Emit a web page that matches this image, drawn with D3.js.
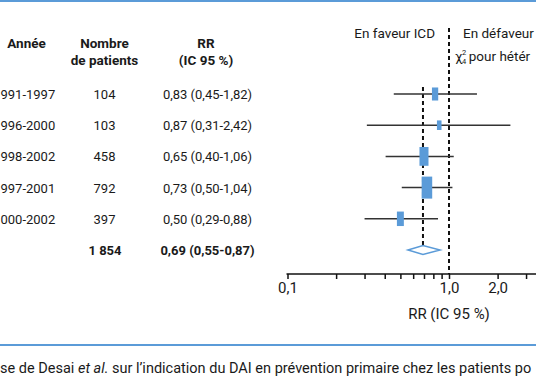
<!DOCTYPE html>
<html><head><meta charset="utf-8">
<script src="https://cdn.jsdelivr.net/npm/d3@7"></script>
<style>
html,body{margin:0;padding:0;background:#fff;overflow:hidden}
text{font-family:Roboto,"Noto Sans",sans-serif;fill:#1a1a1a}
</style></head>
<body>
<svg id="c" width="536" height="386"></svg>
<script>
// ---- data ----
const years = ["991-1997","996-2000","998-2002","997-2001","000-2002"];
const patients = ["104","103","458","792","397"];
const rrLabels = ["0,83 (0,45-1,82)","0,87 (0,31-2,42)","0,65 (0,40-1,06)","0,73 (0,50-1,04)","0,50 (0,29-0,88)"];
// values as drawn in the figure
const rr = [0.82, 0.87, 0.70, 0.73, 0.50];
const ciLow = [0.455, 0.31, 0.405, 0.51, 0.30];
const ciHigh = [1.49, 2.40, 1.07, 1.05, 0.855];
const weights = [13, 7, 27, 37, 16];
const pooledN = "1 854";
const pooledLabel = "0,69 (0,55-0,87)";
const pooled = {rr: 0.69, lo: 0.557, hi: 0.88};
const tickValues = [0.1,0.2,0.3,0.4,0.5,0.6,0.7,0.8,0.9,1,2,3,4];
const tickLabels = {0.1:"0,1", 1:"1,0", 2:"2,0"};

const svg = d3.select("#c");
const blue = "#5b9bd8";
const rowY = d3.scalePoint().domain(d3.range(6)).range([94, 250]);
const x = d3.scaleLog().domain([0.1, 1]).range([287.5, 449]);
const boxH = d3.scaleSqrt().domain([0, 37]).range([0, 22]);

// frame lines
svg.append("line").attr("x1",0).attr("x2",536).attr("y1",1).attr("y2",1).attr("stroke",blue).attr("stroke-width",2);
svg.append("line").attr("x1",0).attr("x2",536).attr("y1",345).attr("y2",345).attr("stroke",blue).attr("stroke-width",2);

// headers
const hdr = svg.append("g").attr("font-weight","bold").attr("font-size",13.5).attr("text-anchor","middle");
hdr.append("text").attr("x",26.5).attr("y",47.5).text("Année");
hdr.append("text").attr("x",104.5).attr("y",47.5).text("Nombre");
hdr.append("text").attr("x",104.5).attr("y",64.5).text("de patients");
hdr.append("text").attr("x",206).attr("y",47.5).text("RR");
hdr.append("text").attr("x",206).attr("y",64.5).text("(IC 95 %)");

// table rows
const rows = svg.append("g").attr("font-size",13);
rows.selectAll(".yr").data(years).join("text").attr("x",0.5).attr("y",(d,i)=>rowY(i)+5).text(d=>d);
rows.selectAll(".np").data(patients).join("text").attr("text-anchor","middle").attr("x",104.5).attr("y",(d,i)=>rowY(i)+5).text(d=>d);
rows.selectAll(".rl").data(rrLabels).join("text").attr("text-anchor","middle").attr("x",207.5).attr("y",(d,i)=>rowY(i)+5).text(d=>d);
rows.append("text").attr("font-weight","bold").attr("text-anchor","middle").attr("x",105).attr("y",rowY(5)+5).text(pooledN);
rows.append("text").attr("font-weight","bold").attr("text-anchor","middle").attr("x",207.5).attr("y",rowY(5)+5).text(pooledLabel);

// top annotations
svg.append("text").attr("font-size",13.5).attr("text-anchor","end").attr("x",435).attr("y",38).text("En faveur ICD");
svg.append("text").attr("font-size",13.5).attr("x",463).attr("y",38).text("En défaveur");
const chi = svg.append("text").attr("font-size",13.5).attr("x",455).attr("y",60.5);
chi.append("tspan").text("χ");
chi.append("tspan").attr("font-size",7.5).attr("dx",-0.5).attr("dy",-5.5).text("2");
chi.append("tspan").attr("font-size",7.5).attr("dx",-4.2).attr("dy",9).text("4");
chi.append("tspan").attr("dy",-3.5).attr("dx",2.5).text("pour hétér");

// reference dashed lines
svg.append("line").attr("x1",x(1)).attr("x2",x(1)).attr("y1",28).attr("y2",274)
  .attr("stroke","#111").attr("stroke-width",2).attr("stroke-dasharray","4,3");
svg.append("line").attr("x1",x(pooled.rr)).attr("x2",x(pooled.rr)).attr("y1",87).attr("y2",246)
  .attr("stroke","#111").attr("stroke-width",2).attr("stroke-dasharray","4,3");

// whiskers
const plot = svg.append("g");
plot.selectAll(".ci").data(rr).join("line")
  .attr("x1",(d,i)=>x(ciLow[i])).attr("x2",(d,i)=>x(ciHigh[i]))
  .attr("y1",(d,i)=>rowY(i)).attr("y2",(d,i)=>rowY(i))
  .attr("stroke","#333").attr("stroke-width",1.5);
// boxes
plot.selectAll(".bx").data(rr).join("rect")
  .attr("x",(d,i)=>x(d)-boxH(weights[i])*0.24)
  .attr("y",(d,i)=>rowY(i)-boxH(weights[i])/2)
  .attr("width",(d,i)=>boxH(weights[i])*0.48)
  .attr("height",(d,i)=>boxH(weights[i]))
  .attr("fill",blue);
// diamond
const py = rowY(5);
plot.append("path")
  .attr("d",`M${x(pooled.lo)},${py}L${x(pooled.rr)},${py-4.5}L${x(pooled.hi)},${py}L${x(pooled.rr)},${py+4.5}Z`)
  .attr("fill","#fff").attr("stroke",blue).attr("stroke-width",1.5);

// axis
const axG = svg.append("g").attr("transform","translate(0,274)");
axG.append("line").attr("x1",x(0.1)-1).attr("x2",536).attr("stroke","#111").attr("stroke-width",1.5);
const axis = d3.axisBottom(x).tickValues(tickValues).tickSize(5).tickSizeOuter(0)
  .tickFormat(d=>tickLabels[d]||"");
const ag = axG.append("g").call(axis);
ag.select(".domain").remove();
ag.selectAll(".tick line").attr("stroke","#111").attr("stroke-width",1.5);
ag.selectAll(".tick text").attr("font-family","Roboto,sans-serif").attr("font-size",15).attr("fill","#1a1a1a").attr("dy","0.75em");
svg.append("text").attr("font-size",15).attr("text-anchor","middle").attr("x",449).attr("y",318.5).text("RR (IC 95 %)");

// caption
const cap = svg.append("text").attr("font-size",14.5).attr("x",0).attr("y",372.5);
cap.append("tspan").text("se de Desai ");
cap.append("tspan").attr("font-style","italic").text("et al.");
cap.append("tspan").text(" sur l’indication du DAI en prévention primaire chez les patients po");
</script>
</body></html>
